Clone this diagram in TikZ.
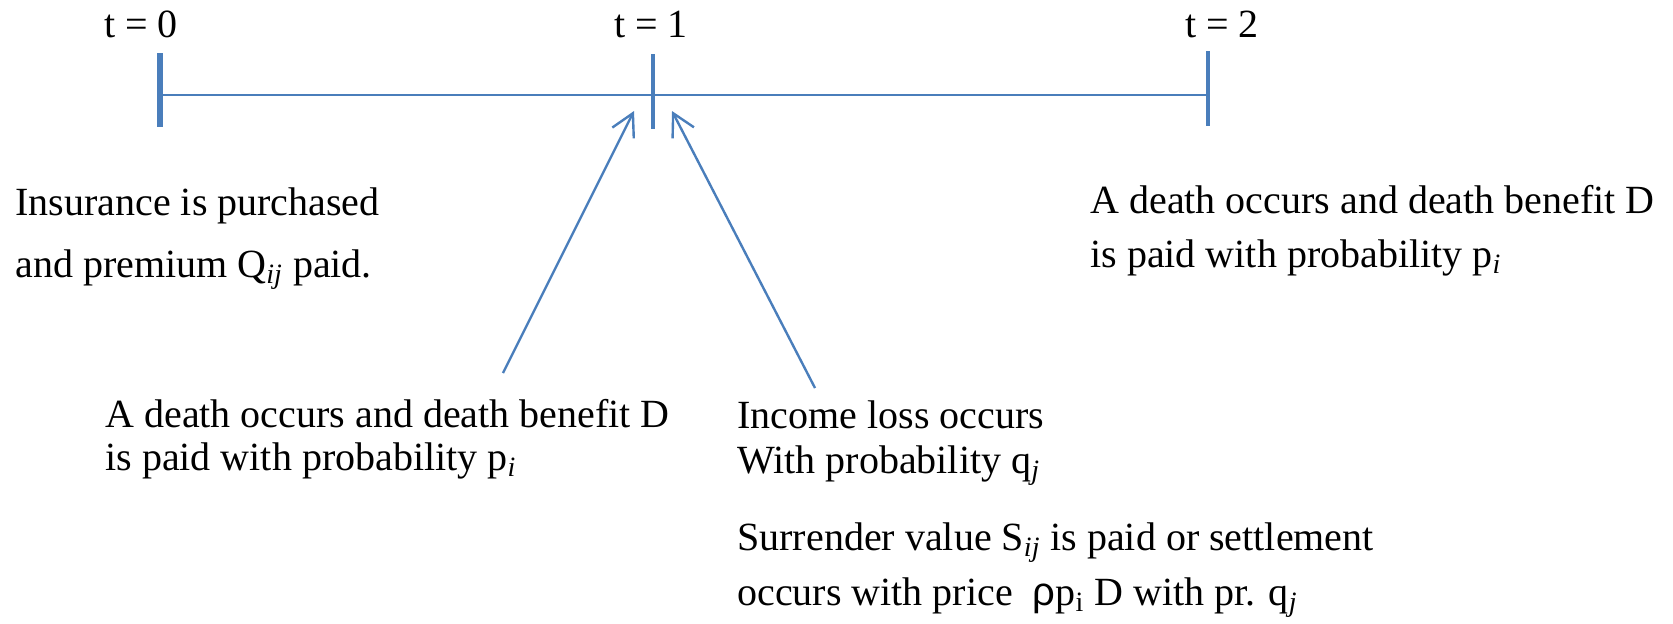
\documentclass[tikz,border=0pt]{standalone}
\usepackage{fontspec}
\setmainfont{Liberation Serif}
\newfontfamily\rhofont{Liberation Sans}
\usetikzlibrary{arrows.meta}
\definecolor{tlblue}{RGB}{74,126,187}
\begin{document}
\begin{tikzpicture}[x=0.5pt,y=-0.5pt,
  lbl/.style={inner sep=0pt, anchor=base, font=\fontsize{20}{24}\selectfont},
  txt/.style={inner sep=0pt, anchor=base west},
  axisline/.style={draw=tlblue, line width=1.3pt},
  tickline/.style={draw=tlblue},
  arr/.style={draw=tlblue, line width=1.2pt, -{Straight Barb[length=11pt,width=12pt,line width=1.2pt]}}]
\useasboundingbox (0,0) rectangle (1673,623);

% time labels
\node[lbl] (l0) at (141,37) {t = 0};
\node[lbl] (l1) at (651,37) {t = 1};
\node[lbl] (l2) at (1222,37) {t = 2};

% timeline
\coordinate (t0) at (160,95);
\coordinate (t1) at (653,95);
\coordinate (t2) at (1208,95);
\coordinate (t0a) at (160,53);  \coordinate (t0b) at (160,127);
\coordinate (t1a) at (653,54);  \coordinate (t1b) at (653,129);
\coordinate (t2a) at (1208,51); \coordinate (t2b) at (1208,126);
\draw[axisline] (t0) -- (t1) -- (t2);
\draw[tickline, line width=3pt] (t0a) -- (t0b);
\draw[tickline, line width=2pt] (t1a) -- (t1b);
\draw[tickline, line width=1.8pt] (t2a) -- (t2b);

% texts
\node[txt, font=\fontsize{20}{31}\selectfont] (ins) at (15,215)
  {\begin{tabular}[t]{@{}l@{}}Insurance is purchased\\and premium Q\textsubscript{\textit{ij}} paid.\end{tabular}};
\node[txt, font=\fontsize{20}{27}\selectfont] (death2) at (1090,213)
  {\begin{tabular}[t]{@{}l@{}}A death occurs and death benefit D\\is paid with probability p\textsubscript{\textit{i}}\end{tabular}};
\node[txt, font=\fontsize{20}{21.5}\selectfont] (death1) at (105,427)
  {\begin{tabular}[t]{@{}l@{}}A death occurs and death benefit D\\is paid with probability p\textsubscript{\textit{i}}\end{tabular}};
\node[txt, font=\fontsize{20}{22.5}\selectfont] (income) at (737,428)
  {\begin{tabular}[t]{@{}l@{}}Income loss occurs\\With probability q\textsubscript{\textit{j}}\end{tabular}};
\node[txt, font=\fontsize{20}{27.5}\selectfont] (surr) at (737,550)
  {\begin{tabular}[t]{@{}l@{}}Surrender value S\textsubscript{\textit{ij}} is paid or settlement\\occurs with price\ \ {\rhofont ρ}p\textsubscript{i} D with pr. q\textsubscript{\textit{j}}\end{tabular}};

% arrows
\coordinate (a1tail) at (503,373);
\coordinate (a1tip) at (634,111);
\coordinate (a2tail) at (815,388);
\coordinate (a2tip) at (672,111);
\draw[arr] (a1tail) -- (a1tip);
\draw[arr] (a2tail) -- (a2tip);
\end{tikzpicture}
\end{document}
